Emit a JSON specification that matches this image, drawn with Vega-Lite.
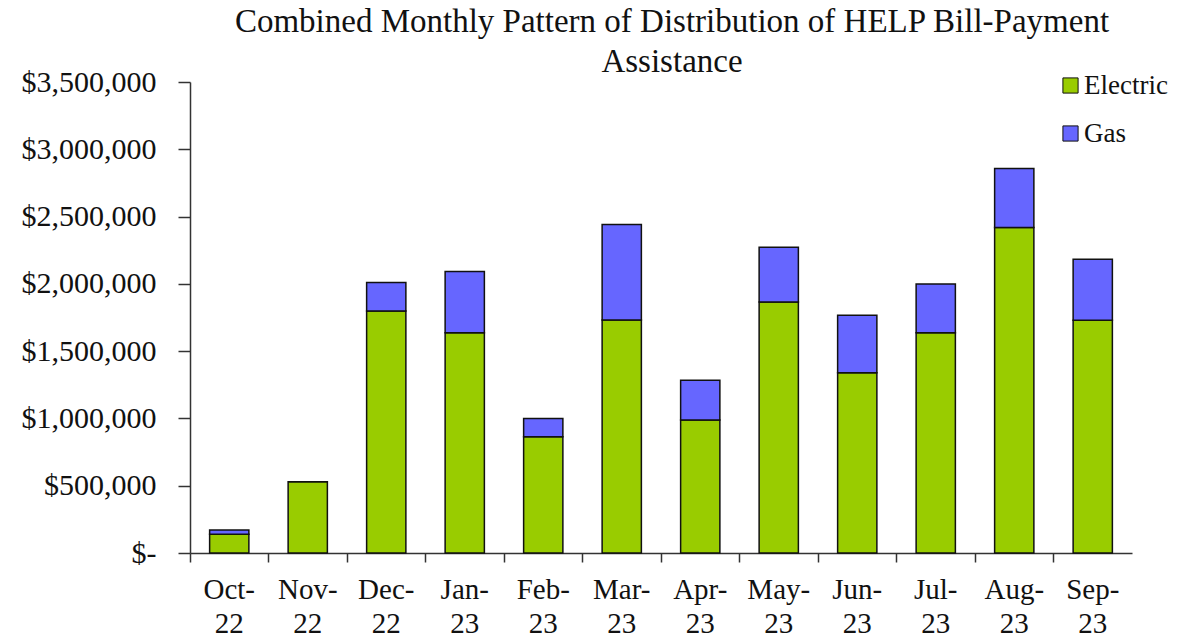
{
  "$schema": "https://vega.github.io/schema/vega-lite/v6.json",
  "autosize": "none",
  "width": 942,
  "height": 471,
  "padding": {"left": 190, "top": 82, "right": 58, "bottom": 87},
  "background": "white",
  "title": {
    "text": ["Combined Monthly Pattern of Distribution of HELP Bill-Payment", "Assistance"],
    "font": "Liberation Serif",
    "fontSize": 33,
    "fontWeight": "normal",
    "color": "#111111",
    "anchor": "middle",
    "lineHeight": 40,
    "offset": -12,
    "dx": 11
  },
  "config": {
    "view": {"stroke": null},
    "axis": {"grid": false}
  },
  "data": {
    "values": [
      {"month": "Oct-22", "type": "Electric", "value": 140000},
      {"month": "Oct-22", "type": "Gas", "value": 30000},
      {"month": "Nov-22", "type": "Electric", "value": 530000},
      {"month": "Nov-22", "type": "Gas", "value": 0},
      {"month": "Dec-22", "type": "Electric", "value": 1798000},
      {"month": "Dec-22", "type": "Gas", "value": 213000},
      {"month": "Jan-23", "type": "Electric", "value": 1637000},
      {"month": "Jan-23", "type": "Gas", "value": 454000},
      {"month": "Feb-23", "type": "Electric", "value": 864000},
      {"month": "Feb-23", "type": "Gas", "value": 136000},
      {"month": "Mar-23", "type": "Electric", "value": 1731000},
      {"month": "Mar-23", "type": "Gas", "value": 710000},
      {"month": "Apr-23", "type": "Electric", "value": 988000},
      {"month": "Apr-23", "type": "Gas", "value": 295000},
      {"month": "May-23", "type": "Electric", "value": 1865000},
      {"month": "May-23", "type": "Gas", "value": 407000},
      {"month": "Jun-23", "type": "Electric", "value": 1340000},
      {"month": "Jun-23", "type": "Gas", "value": 426000},
      {"month": "Jul-23", "type": "Electric", "value": 1637000},
      {"month": "Jul-23", "type": "Gas", "value": 362000},
      {"month": "Aug-23", "type": "Electric", "value": 2418000},
      {"month": "Aug-23", "type": "Gas", "value": 439000},
      {"month": "Sep-23", "type": "Electric", "value": 1729000},
      {"month": "Sep-23", "type": "Gas", "value": 454000}
    ]
  },
  "mark": {"type": "bar", "stroke": "#111111", "strokeWidth": 1.5, "width": {"band": 0.5}},
  "encoding": {
    "x": {
      "field": "month",
      "type": "nominal",
      "sort": null,
      "scale": {"paddingInner": 0, "paddingOuter": 0},
      "axis": {
        "title": null,
        "labelAngle": 0,
        "bandPosition": 0,
        "labelExpr": "[split(datum.label, '-')[0] + '-', split(datum.label, '-')[1]]",
        "labelFont": "Liberation Serif",
        "labelFontSize": 29,
        "labelColor": "#111111",
        "labelLineHeight": 34,
        "labelPadding": 13,
        "tickSize": 9,
        "tickColor": "#333333",
        "tickWidth": 1.5,
        "domainColor": "#333333",
        "domainWidth": 1.5
      }
    },
    "y": {
      "field": "value",
      "type": "quantitative",
      "stack": "zero",
      "scale": {"domain": [0, 3500000], "nice": false},
      "axis": {
        "title": null,
        "values": [0, 500000, 1000000, 1500000, 2000000, 2500000, 3000000, 3500000],
        "labelExpr": "datum.value == 0 ? '$-' : '$' + format(datum.value, ',')",
        "labelFont": "Liberation Serif",
        "labelFontSize": 30,
        "labelColor": "#111111",
        "labelPadding": 22,
        "tickSize": 12,
        "tickColor": "#333333",
        "tickWidth": 1.5,
        "domainColor": "#333333",
        "domainWidth": 1.5
      }
    },
    "color": {
      "field": "type",
      "type": "nominal",
      "scale": {"domain": ["Electric", "Gas"], "range": ["#99CC00", "#6666FF"]},
      "legend": {
        "title": null,
        "orient": "none",
        "legendX": 867,
        "legendY": -10,
        "symbolType": "square",
        "symbolSize": 230,
        "symbolStrokeColor": "#111111",
        "symbolStrokeWidth": 1,
        "labelFont": "Liberation Serif",
        "labelFontSize": 27,
        "labelColor": "#111111",
        "rowPadding": 20,
        "labelOffset": 0
      }
    },
    "order": {"field": "type", "sort": "ascending"}
  }
}
